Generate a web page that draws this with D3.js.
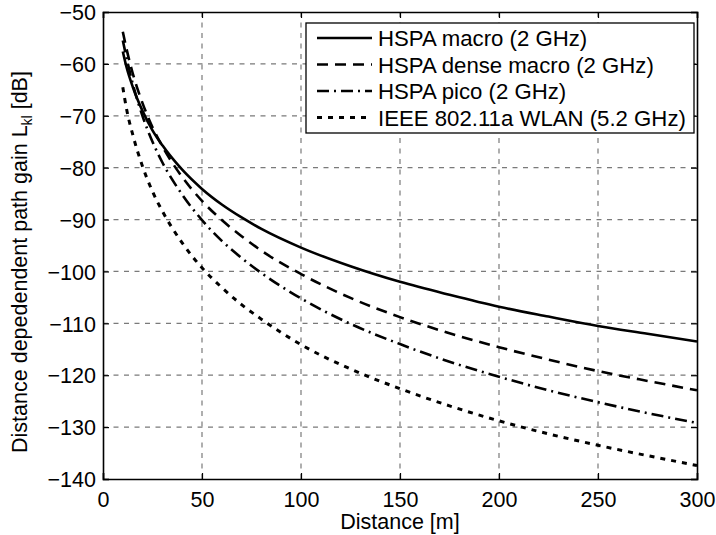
<!DOCTYPE html>
<html>
<head>
<meta charset="utf-8">
<script src="https://cdn.jsdelivr.net/npm/d3@7"></script>
<style>
  body { margin: 0; background: #fff; }
  text { font-family: "Liberation Sans", Arial, Helvetica, sans-serif; fill: #000; }
</style>
</head>
<body>
<div id="chart"></div>
<script>
// distances in metres (sample points)
var distance = [10, 12, 15, 20, 25, 30, 40, 50, 60, 70, 80, 100, 125, 150, 175, 200, 225, 250, 275, 300];

// path gain in dB per model
var hspaMacro  = [-57.6, -60.8, -64.4, -69.1, -72.8, -75.7, -80.4, -84.1, -87.1, -89.6, -91.8, -95.4, -99.0, -102.0, -104.5, -106.8, -108.7, -110.5, -112.0, -113.5];
var hspaDense  = [-53.8, -57.3, -61.8, -67.6, -72.2, -75.9, -81.8, -86.4, -90.1, -93.2, -96.0, -100.5, -105.1, -108.8, -111.9, -114.6, -117.0, -119.2, -121.1, -122.9];
var hspaPico   = [-55.5, -59.0, -63.8, -70.1, -75.0, -79.0, -85.2, -90.1, -94.1, -97.4, -100.3, -105.2, -110.1, -114.0, -117.4, -120.3, -122.9, -125.2, -127.3, -129.2];
var wlan       = [-64.5, -68.9, -73.6, -79.8, -84.6, -88.4, -94.5, -99.3, -103.1, -106.4, -109.2, -114.1, -118.8, -122.6, -125.9, -128.8, -131.3, -133.5, -135.5, -137.4];

var seriesNames = ["HSPA macro (2 GHz)", "HSPA dense macro (2 GHz)", "HSPA pico (2 GHz)", "IEEE 802.11a WLAN (5.2 GHz)"];
var seriesData = [hspaMacro, hspaDense, hspaPico, wlan];
var dashes = ["none", "11,7", "12,5,2,5", "5,6"];

var xTicks = [0, 50, 100, 150, 200, 250, 300];
var yTicks = [-140, -130, -120, -110, -100, -90, -80, -70, -60, -50];

var width = 716, height = 535;
var margin = {top: 12, right: 19, bottom: 56, left: 103};
var w = width - margin.left - margin.right;
var h = height - margin.top - margin.bottom;
var fontSize = "21.5px";

var svg = d3.select("#chart").append("svg")
    .attr("width", width)
    .attr("height", height);

var g = svg.append("g")
    .attr("transform", "translate(" + margin.left + "," + margin.top + ")");

var x = d3.scaleLinear().domain([0, 300]).range([0, w]);
var y = d3.scaleLinear().domain([-140, -50]).range([h, 0]);

// grid
g.append("g").selectAll("line")
    .data(xTicks.slice(1, -1))
    .enter().append("line")
    .attr("x1", function(d){ return x(d); })
    .attr("x2", function(d){ return x(d); })
    .attr("y1", 0).attr("y2", h)
    .attr("stroke", "#7a7a7a")
    .attr("stroke-width", 1.2)
    .attr("stroke-dasharray", "5,5.5");

g.append("g").selectAll("line")
    .data(yTicks.slice(1, -1))
    .enter().append("line")
    .attr("y1", function(d){ return y(d); })
    .attr("y2", function(d){ return y(d); })
    .attr("x1", 0).attr("x2", w)
    .attr("stroke", "#7a7a7a")
    .attr("stroke-width", 1.2)
    .attr("stroke-dasharray", "5,5.5");

// axes (ticks drawn inward, matlab style)
var xAxis = g.append("g")
    .attr("transform", "translate(0," + h + ")")
    .call(d3.axisBottom(x).tickValues(xTicks).tickSize(-6).tickPadding(13).tickFormat(d3.format("d")));
var xAxisTop = g.append("g")
    .call(d3.axisTop(x).tickValues(xTicks).tickSize(-6).tickFormat(""));
var yAxis = g.append("g")
    .call(d3.axisLeft(y).tickValues(yTicks).tickSize(-6).tickPadding(7).tickFormat(d3.format("d")));
var yAxisRight = g.append("g")
    .attr("transform", "translate(" + w + ",0)")
    .call(d3.axisRight(y).tickValues(yTicks).tickSize(-6).tickFormat(""));

[xAxis, xAxisTop, yAxis, yAxisRight].forEach(function(a){
    a.select(".domain").attr("stroke", "#000").attr("stroke-width", 1.6);
    a.selectAll(".tick line").attr("stroke", "#000").attr("stroke-width", 1.2);
    a.selectAll(".tick text").style("font-size", fontSize).attr("fill", "#000");
});
yAxis.selectAll(".tick text").attr("dy", "0.36em");

// curves
var line = d3.line()
    .x(function(d, i){ return x(distance[i]); })
    .y(function(d){ return y(d); })
    .curve(d3.curveMonotoneX);

g.append("g").selectAll("path")
    .data(seriesData)
    .enter().append("path")
    .attr("d", line)
    .attr("fill", "none")
    .attr("stroke", "#000")
    .attr("stroke-width", function(d, i){ return i == 3 ? 3 : 2.6; })
    .attr("stroke-dasharray", function(d, i){ return dashes[i]; });

// legend
var legend = svg.append("g").attr("transform", "translate(306,23)");
legend.append("rect")
    .attr("width", 388).attr("height", 110)
    .attr("fill", "#fff")
    .attr("stroke", "#000")
    .attr("stroke-width", 1.3);

var item = legend.selectAll(".item")
    .data(seriesNames)
    .enter().append("g")
    .attr("class", "item")
    .attr("transform", function(d, i){ return "translate(0," + (15 + i * 26.5) + ")"; });

item.append("line")
    .attr("x1", 11).attr("x2", 66)
    .attr("stroke", "#000")
    .attr("stroke-width", function(d, i){ return i == 3 ? 3 : 2.6; })
    .attr("stroke-dasharray", function(d, i){ return dashes[i]; });

item.append("text")
    .attr("x", 72)
    .attr("dy", "0.36em")
    .style("font-size", "22.2px")
    .text(function(d){ return d; });

// axis labels
svg.append("text")
    .attr("x", margin.left + w / 2)
    .attr("y", 529)
    .attr("text-anchor", "middle")
    .style("font-size", fontSize)
    .text("Distance [m]");

var ylab = svg.append("text")
    .attr("transform", "translate(27,262) rotate(-90)")
    .attr("text-anchor", "middle")
    .style("font-size", fontSize);
ylab.append("tspan").text("Distance depedendent path gain L");
ylab.append("tspan").attr("dy", 5).style("font-size", "14px").text("kl");
ylab.append("tspan").attr("dy", -5).text(" [dB]");
</script>
</body>
</html>
